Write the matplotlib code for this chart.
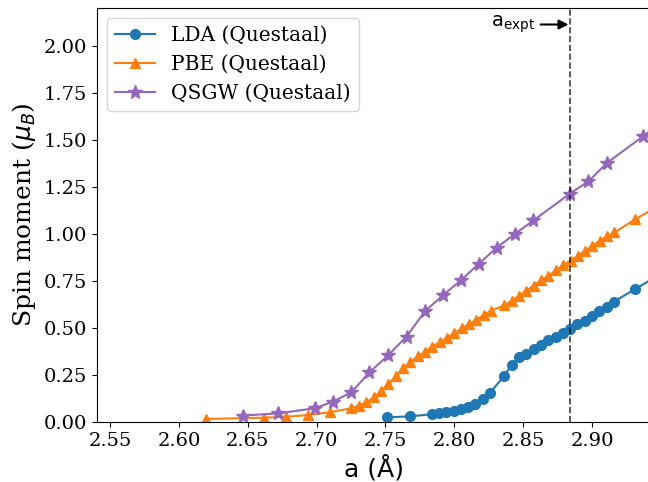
import matplotlib
matplotlib.use("Agg")
import matplotlib.pyplot as plt
import numpy as np

################################################################
# Data

lda_a = [2.7515, 2.7677, 2.7837, 2.7890, 2.7943, 2.7997, 2.8050, 2.8103,
         2.8154, 2.8207, 2.8258, 2.8364, 2.8418, 2.8471, 2.8524, 2.8578,
         2.8631, 2.8684, 2.8737, 2.8788, 2.8841, 2.8894, 2.8948, 2.9001,
         2.9054, 2.9108, 2.9161, 2.9316, 2.9535]
lda_m = [0.025, 0.030, 0.041, 0.046, 0.053, 0.060, 0.069, 0.080,
         0.097, 0.124, 0.154, 0.246, 0.305, 0.344, 0.362, 0.388,
         0.410, 0.435, 0.454, 0.473, 0.496, 0.520, 0.539, 0.564,
         0.590, 0.613, 0.640, 0.707, 0.803]

pbe_a = [2.6196, 2.6619, 2.6779, 2.6939, 2.7096, 2.7253, 2.7309, 2.7362,
         2.7418, 2.7469, 2.7522, 2.7576, 2.7629, 2.7682, 2.7735, 2.7788,
         2.7841, 2.7895, 2.7948, 2.8001, 2.8055, 2.8108, 2.8161, 2.8215,
         2.8268, 2.8362, 2.8418, 2.8471, 2.8524, 2.8578, 2.8631, 2.8684,
         2.8737, 2.8791, 2.8844, 2.8898, 2.8950, 2.9003, 2.9057, 2.9110,
         2.9163, 2.9316, 2.9535]
pbe_m = [0.016, 0.023, 0.028, 0.037, 0.052, 0.073, 0.087, 0.105,
         0.131, 0.166, 0.202, 0.245, 0.286, 0.321, 0.348, 0.374,
         0.401, 0.424, 0.448, 0.472, 0.498, 0.521, 0.543, 0.569,
         0.592, 0.619, 0.645, 0.670, 0.698, 0.725, 0.754, 0.777,
         0.805, 0.832, 0.858, 0.883, 0.911, 0.936, 0.964, 0.986,
         1.007, 1.078, 1.170]

qsgw_a = [2.6462, 2.6723, 2.6987, 2.7118, 2.7253, 2.7384, 2.7520, 2.7653,
          2.7788, 2.7919, 2.8050, 2.8180, 2.8309, 2.8442, 2.8575, 2.8841,
          2.8973, 2.9108, 2.9371, 2.9504]
qsgw_m = [0.034, 0.046, 0.073, 0.108, 0.158, 0.264, 0.354, 0.454,
          0.589, 0.674, 0.754, 0.842, 0.927, 1.000, 1.071, 1.214,
          1.278, 1.376, 1.518, 1.590]

a_expt = 2.884

################################################################
# Plot

plt.rc('font', family='DejaVu Serif', size=14)
plt.rc('xtick', labelsize=14)
plt.rc('ytick', labelsize=14)
plt.rc('legend', fontsize=14.5)

fig = plt.figure(figsize=(6.48, 4.82), dpi=100)
ax = fig.add_axes([0.1492, 0.1245, 0.857, 0.859])

ax.plot(lda_a, lda_m, marker='o', ms=7, color='C0', label='LDA (Questaal)')
ax.plot(pbe_a, pbe_m, marker='^', ms=7.5, color='C1', label='PBE (Questaal)')
ax.plot(qsgw_a, qsgw_m, marker='*', ms=10, color='C4', label='QSGW (Questaal)')

ax.axvline(a_expt, color='k', ls='--', lw=1.2, alpha=0.75)
ax.annotate(r'$\mathrm{a_{expt}}$', xy=(a_expt, 2.112), xytext=(2.8587, 2.112),
            ha='right', va='center', fontsize=14,
            arrowprops=dict(arrowstyle='-|>', color='k', lw=1.5, shrinkB=1))

ax.set_xlim(2.5403, 2.9436)
ax.set_ylim(0, 2.2)
ax.set_xticks(np.arange(2.55, 2.901, 0.05))
ax.set_yticks(np.arange(0, 2.01, 0.25))
ax.set_xticklabels(['%.2f' % t for t in np.arange(2.55, 2.901, 0.05)])
ax.set_yticklabels(['%.2f' % t for t in np.arange(0, 2.01, 0.25)])
ax.set_xlabel('a (Å)', fontsize=18, family='DejaVu Sans')
ax.set_ylabel(r'Spin moment ($\mu_B$)', fontsize=18)
ax.legend(loc='upper left')

fig.savefig('out.png', dpi=100)
